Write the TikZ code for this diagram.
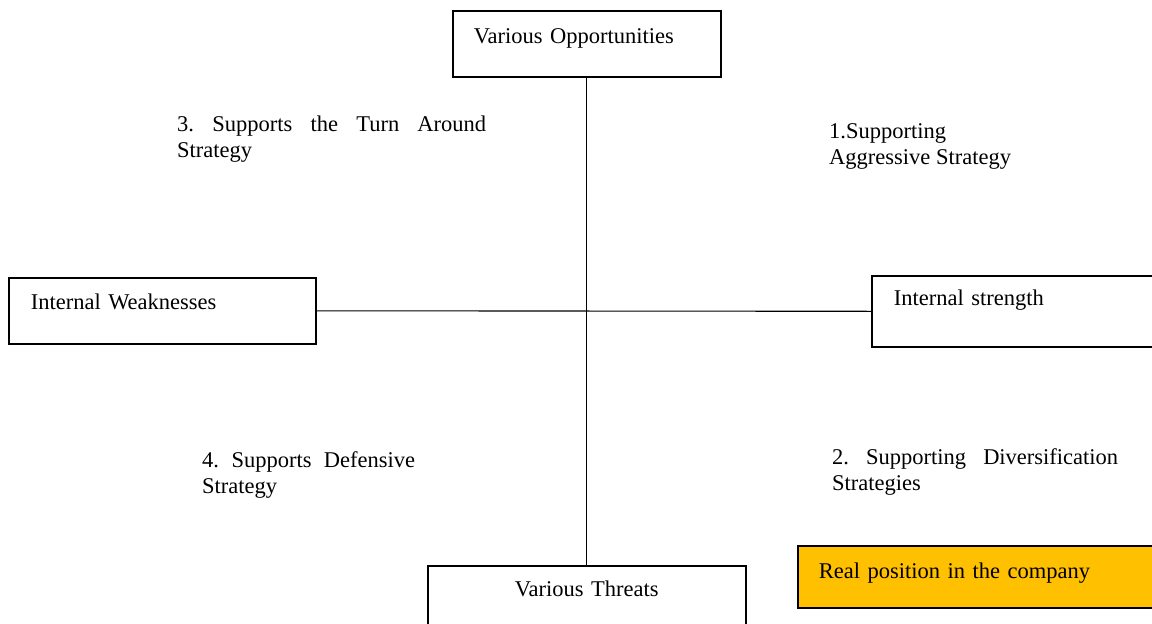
\documentclass[tikz,border=0pt]{standalone}
\usepackage{fontspec}
\setmainfont{Liberation Serif}
\usetikzlibrary{positioning}

\definecolor{realpos}{HTML}{FFC000}

\tikzstyle{quad box}  = [draw,line width=1.6pt,inner ysep=0pt,align=left,anchor=north west]
\tikzstyle{axis line} = [line width=1.1pt]
\tikzstyle{strategy}  = [inner sep=0pt,anchor=north west,align=justify]

\begin{document}
\frenchspacing
\hyphenpenalty=10000
\exhyphenpenalty=10000
\begin{tikzpicture}[x=1pt,y=-1pt,font=\fontsize{22.5}{26}\selectfont]
\useasboundingbox (0,0) rectangle (1152,624);
\clip (0,0) rectangle (1152,624);
% Draw the four boxes around the cross
\node[quad box,inner xsep=21pt,text width=226pt,text height=33pt,text depth=33pt] (opp)
  at (452,10) {Various Opportunities};
\node[quad box,inner xsep=22pt,text width=263pt,text height=32pt,text depth=34pt] (weak)
  at (8,277) {Internal Weaknesses};
\node[quad box,inner xsep=22pt,text width=256pt,text height=30pt,text depth=41pt] (strength)
  at (871,275) {Internal strength};
\node[quad box,inner xsep=10pt,text width=298pt,text height=31pt,text depth=60pt,align=center] (threats)
  at (427,565) {Various Threats};
% Draw the legend box
\node[quad box,fill=realpos,inner xsep=21pt,text width=331pt,text height=33pt,text depth=29pt] (real)
  at (797,545) {Real position in the company};
% Draw the axes between the boxes
\draw[axis line] (opp.south) -- (threats.north);
\draw[axis line] (weak.east) -- (strength.west);
% Draw the strategy labels in the quadrants
\node[strategy,text width=309pt] (turn) at (177,116) {\hyphenpenalty=10000 3. Supports the Turn Around Strategy};
\node[strategy,align=left] (aggr) at (829,123) {1.Supporting\\Aggressive Strategy};
\node[strategy,text width=213pt] (def) at (202,451) {4. Supports Defensive Strategy};
\node[strategy,text width=286pt] (div) at (832,448) {2. Supporting Diversification Strategies};
\end{tikzpicture}
\end{document}
